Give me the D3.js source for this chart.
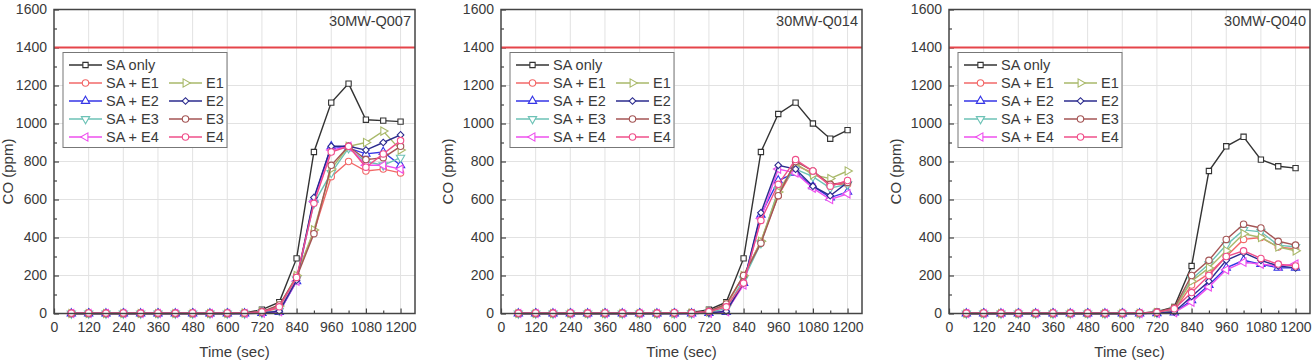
<!DOCTYPE html>
<html>
<head>
<meta charset="UTF-8">
<title>CO concentration, 30MW fires</title>
<style>
  body { margin: 0; background: #fff; }
  svg text { font-family: Arial, "Liberation Sans", sans-serif; fill: #3a3a3a; }
</style>
</head>
<body>
<script src="https://d3js.org/d3.v7.min.js"></script>
<script>

// time axis (sec), one reading per minute
var times = [60,120,180,240,300,360,420,480,540,600,660,720,780,840,900,960,1020,1080,1140,1200];
var xTicks = [0,120,240,360,480,600,720,840,960,1080,1200];
var yTicks = [0,200,400,600,800,1000,1200,1400,1600];
var limitCO = 1400;

var seriesNames = ["SA only", "SA + E1", "SA + E2", "SA + E3", "SA + E4", "E1", "E2", "E3", "E4"];
var seriesColors = ["#333333", "#f26868", "#3535e6", "#6cc2b6", "#ee4fee", "#a9b96a", "#2b2b8e", "#a45555", "#ef4f8a"];
// square, circle, up, down, left, right, diamond, circle, circle
var seriesSymbols = ["square", "circle", "up", "down", "left", "right", "diamond", "circle", "circle"];

var panelTitles = ["30MW-Q007", "30MW-Q014", "30MW-Q040"];

// CO (ppm), rows in the order of seriesNames
var Q007 = [
  [0,0,0,0,0,0,0,0,0,0,3,20,60,290,850,1110,1210,1020,1015,1010],
  [0,0,0,0,0,0,0,0,0,0,0,5,30,200,430,720,800,750,760,740],
  [0,0,0,0,0,0,0,0,0,0,0,2,8,170,600,880,870,840,850,780],
  [0,0,0,0,0,0,0,0,0,0,0,3,15,180,580,740,870,800,780,820],
  [0,0,0,0,0,0,0,0,0,0,0,2,10,170,590,860,880,780,780,760],
  [0,0,0,0,0,0,0,0,0,0,2,8,40,200,440,760,880,900,960,860],
  [0,0,0,0,0,0,0,0,0,0,0,3,12,175,610,880,880,860,900,940],
  [0,0,0,0,0,0,0,0,0,0,3,10,45,190,420,780,880,810,820,880],
  [2,3,2,3,2,3,2,3,2,3,3,8,35,190,580,850,880,770,840,910]
];
var Q014 = [
  [0,0,0,0,0,0,0,0,0,2,5,20,60,290,850,1050,1110,1000,920,965],
  [0,0,0,0,0,0,0,0,0,0,2,8,40,200,380,620,780,740,680,680],
  [0,0,0,0,0,0,0,0,0,0,0,2,8,160,520,700,740,670,610,640],
  [0,0,0,0,0,0,0,0,0,0,1,5,25,180,370,650,760,720,660,680],
  [0,0,0,0,0,0,0,0,0,0,0,2,10,150,500,760,740,660,600,630],
  [0,0,0,0,0,0,0,0,0,0,2,8,45,200,380,640,790,730,710,750],
  [0,0,0,0,0,0,0,0,0,0,0,3,12,160,530,780,760,670,620,690],
  [0,0,0,0,0,0,0,0,0,2,4,12,50,200,370,620,800,750,680,690],
  [2,3,2,3,2,3,2,3,2,4,3,10,35,160,490,680,810,750,670,700]
];
var Q040 = [
  [0,0,0,0,0,0,0,0,0,0,2,10,35,250,750,880,930,810,775,765],
  [0,0,0,0,0,0,0,0,0,0,0,3,15,150,210,300,390,400,350,340],
  [0,0,0,0,0,0,0,0,0,0,0,1,5,70,150,240,280,260,240,240],
  [0,0,0,0,0,0,0,0,0,0,0,4,20,180,260,360,440,430,360,350],
  [0,0,0,0,0,0,0,0,0,0,0,1,5,60,140,230,270,260,250,260],
  [0,0,0,0,0,0,0,0,0,0,1,5,25,170,240,330,420,400,350,330],
  [0,0,0,0,0,0,0,0,0,0,0,2,8,90,170,280,320,280,250,240],
  [0,0,0,0,0,0,0,0,0,0,2,8,30,200,280,390,470,450,380,360],
  [2,3,2,3,2,3,2,3,2,3,3,6,25,110,200,300,330,290,260,250]
];
var panelData = [Q007, Q014, Q040];

var panelLeft = [54, 501, 949];
var plotTop = 9.5,
  plotW = 361,
  plotH = 304;

var svg = d3.select("body")
  .append("svg")
  .attr("width", 1314)
  .attr("height", 360);

var x = d3.scaleLinear().domain([0, 1250]).range([0, plotW]);
var y = d3.scaleLinear().domain([0, 1600]).range([plotH, 0]);

// open marker, drawn centred on 0,0
function marker(sel, kind, color) {
  var tri = d3.symbol().type(d3.symbolTriangle).size(30);
  var p;
  if (kind === "square") p = sel.append("path").attr("d", d3.symbol().type(d3.symbolSquare).size(28)());
  else if (kind === "circle") p = sel.append("circle").attr("r", 3.2);
  else if (kind === "diamond") p = sel.append("path").attr("d", d3.symbol().type(d3.symbolSquare).size(22)()).attr("transform", "rotate(45)");
  else {
    var rot = { up: 0, down: 180, left: -90, right: 90 }[kind];
    p = sel.append("path").attr("d", tri()).attr("transform", "rotate(" + rot + ")");
  }
  p.attr("fill", "#fff").attr("stroke", color).attr("stroke-width", 1.1);
}

panelData.forEach(function(rows, pi) {
  var g = svg.append("g")
    .attr("transform", "translate(" + panelLeft[pi] + "," + plotTop + ")");

  // grid
  g.append("g").selectAll("line.gx")
    .data(xTicks.slice(1))
    .enter().append("line")
    .attr("x1", function(d) { return x(d); }).attr("x2", function(d) { return x(d); })
    .attr("y1", 0).attr("y2", plotH)
    .attr("stroke", "#e2e2e2").attr("stroke-width", 1);
  g.append("g").selectAll("line.gy")
    .data(yTicks.slice(1))
    .enter().append("line")
    .attr("x1", 0).attr("x2", plotW)
    .attr("y1", function(d) { return y(d); }).attr("y2", function(d) { return y(d); })
    .attr("stroke", "#e2e2e2").attr("stroke-width", 1);

  // axes with inward ticks
  g.append("g")
    .attr("transform", "translate(0," + plotH + ")")
    .call(d3.axisBottom(x).tickValues(xTicks).tickSize(-5).tickPadding(9).tickFormat(d3.format("d")));
  g.append("g")
    .attr("transform", "translate(0," + plotH + ")")
    .call(d3.axisBottom(x).tickValues(d3.range(60, 1250, 120)).tickSize(-3).tickFormat(""));
  g.append("g")
    .call(d3.axisLeft(y).tickValues(yTicks).tickSize(-5).tickPadding(7).tickFormat(d3.format("d")));
  g.append("g")
    .call(d3.axisLeft(y).tickValues(d3.range(100, 1600, 200)).tickSize(-3).tickFormat(""));

  g.selectAll(".domain").remove();
  g.selectAll(".tick line").attr("stroke", "#444").attr("stroke-width", 1.2);
  g.selectAll(".tick text").attr("font-size", 14).attr("fill", "#3a3a3a");

  // CO limit line
  g.append("line")
    .attr("x1", 0).attr("x2", plotW)
    .attr("y1", y(limitCO)).attr("y2", y(limitCO))
    .attr("stroke", "#e5454a").attr("stroke-width", 1.8);

  // series
  var line = d3.line()
    .x(function(d, i) { return x(times[i]); })
    .y(function(d) { return y(d); });

  rows.forEach(function(vals, si) {
    g.append("path")
      .datum(vals)
      .attr("d", line)
      .attr("fill", "none")
      .attr("stroke", seriesColors[si])
      .attr("stroke-width", 1.4);
    vals.forEach(function(v, i) {
      var m = g.append("g").attr("transform", "translate(" + x(times[i]) + "," + y(v) + ")");
      marker(m, seriesSymbols[si], seriesColors[si]);
    });
  });

  // frame
  g.append("rect")
    .attr("width", plotW).attr("height", plotH)
    .attr("fill", "none").attr("stroke", "#444").attr("stroke-width", 1.5);

  // panel title
  g.append("text")
    .attr("x", plotW - 4).attr("y", 16)
    .attr("text-anchor", "end")
    .attr("font-size", 14.5)
    .text(panelTitles[pi]);

  // legend
  var lg = g.append("g").attr("transform", "translate(9,43)");
  lg.append("rect")
    .attr("width", 164).attr("height", 95)
    .attr("fill", "#fff").attr("stroke", "#777").attr("stroke-width", 1);
  seriesNames.forEach(function(name, si) {
    var col = si <= 4 ? 0 : 1;
    var row = si <= 4 ? si : si - 4;
    var item = lg.append("g")
      .attr("transform", "translate(" + (col * 100) + "," + (12.5 + row * 18) + ")");
    item.append("line")
      .attr("x1", 6).attr("x2", 39)
      .attr("stroke", seriesColors[si]).attr("stroke-width", 1.4);
    marker(item.append("g").attr("transform", "translate(22.5,0)"), seriesSymbols[si], seriesColors[si]);
    item.append("text")
      .attr("x", 43).attr("dy", "0.36em")
      .attr("font-size", 14.5)
      .text(name);
  });

  // axis titles
  g.append("text")
    .attr("x", plotW / 2).attr("y", plotH + 43)
    .attr("text-anchor", "middle")
    .attr("font-size", 15)
    .text("Time (sec)");
  // keep the first panel's title just inside the page edge
  var yTitleX = Math.max(-48, 13 - panelLeft[pi]);
  g.append("text")
    .attr("transform", "translate(" + yTitleX + "," + (plotH / 2 + 10) + ") rotate(-90)")
    .attr("text-anchor", "middle")
    .attr("font-size", 15)
    .text("CO (ppm)");
});

</script>
</body>
</html>
